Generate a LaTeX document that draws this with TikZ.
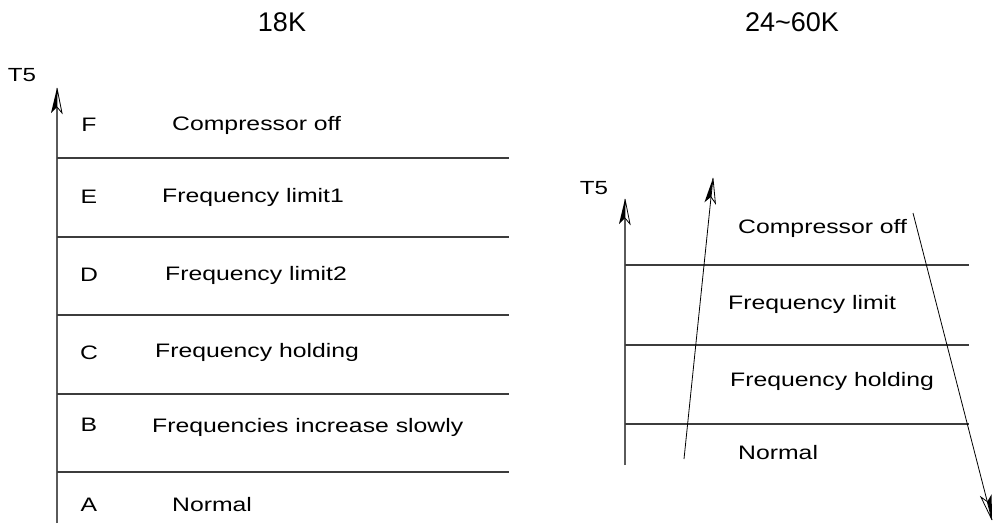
\documentclass[tikz,border=0pt]{standalone}
\usepackage{fontspec}
\setmainfont[FakeStretch=1.27]{Liberation Sans}
\newfontfamily\hdfont{Liberation Sans}
\usetikzlibrary{calc}
\definecolor{bandcol}{RGB}{60,60,60}
\definecolor{axiscol}{RGB}{90,90,90}
\tikzset{
  lbl/.style={anchor=west, inner sep=0pt, font=\fontsize{19.5}{23}\selectfont},
  ctr/.style={inner sep=0pt, font=\fontsize{19.5}{23}\selectfont},
  hdr/.style={inner sep=0pt, font=\hdfont\fontsize{27}{30}\selectfont},
  tfive/.style={inner sep=0pt, font=\fontsize{19}{22}\selectfont},
  band/.style={draw=bandcol, line width=1.3pt},
  axis/.style={draw=axiscol, line width=1.3pt},
  thin/.style={draw=black, line width=0.8pt},
}
\newcommand{\halfhead}[2]{%
  \coordinate (hb) at ($(#1)!25pt!(#2)$);
  \coordinate (hn) at ($(#1)!19pt!(#2)$);
  \fill[black] (#1) -- ($(hb)!6pt!90:(#1)$) -- (hn) -- cycle;
  \draw[line width=0.8pt, fill=white] (#1) -- ($(hb)!5pt!-90:(#1)$) -- (hn) -- cycle;
}
\begin{document}
\begin{tikzpicture}[x=1pt, y=-1pt]
\useasboundingbox (0,0) rectangle (998,530);
% headers
\node[hdr] (h1) at (282,22) {18K};
\node[hdr] (h2) at (792,22) {24\char`~60K};
% ---------- left diagram ----------
\node[tfive] (t5a) at (22,75) {T5};
\coordinate (la0) at (57,523);
\coordinate (la1) at (57,88);
\path[axis] (la0) -- ($(la1)+(0,18)$);
\halfhead{la1}{la0}
\foreach \y/\n in {158/l1,237/l2,315/l3,394/l4,472/l5}{
  \coordinate (\n s) at (57,\y);
  \coordinate (\n e) at (509,\y);
  \path[band] (\n s) -- (\n e);
}
\node[ctr] (F) at (89,125) {F};
\node[ctr] (E) at (89,197) {E};
\node[ctr] (D) at (89,275) {D};
\node[ctr] (C) at (89,353) {C};
\node[ctr] (B) at (89,425) {B};
\node[ctr] (A) at (89,505) {A};
\node[lbl] (tF) at (172,125) {Compressor off};
\node[lbl] (tE) at (162,197) {Frequency limit1};
\node[lbl] (tD) at (165,275) {Frequency limit2};
\node[lbl] (tC) at (155,352) {Frequency holding};
\node[lbl] (tB) at (152,427) {Frequencies increase slowly};
\node[lbl] (tA) at (172,505) {Normal};
% ---------- right diagram ----------
\node[tfive] (t5b) at (594,188) {T5};
\coordinate (ra0) at (625,465);
\coordinate (ra1) at (625,199);
\path[axis] (ra0) -- ($(ra1)+(0,18)$);
\halfhead{ra1}{ra0}
\foreach \y/\n in {265/r1,345/r2,424/r3}{
  \coordinate (\n s) at (625,\y);
  \coordinate (\n e) at (969,\y);
  \path[band] (\n s) -- (\n e);
}
\node[lbl] (r4) at (738,228) {Compressor off};
\node[lbl] (r3) at (728,304) {Frequency limit};
\node[lbl] (r2) at (730,381) {Frequency holding};
\node[lbl] (r1) at (738,453) {Normal};
% rising arrow
\coordinate (up0) at (684,459);
\coordinate (up1) at (713,178);
\path[thin] (up0) -- ($(up1)!18pt!(up0)$);
\halfhead{up1}{up0}
% falling arrow
\coordinate (dn0) at (913,213);
\coordinate (dn1) at (992,520);
\path[thin] (dn0) -- ($(dn1)!18pt!(dn0)$);
\halfhead{dn1}{dn0}
\end{tikzpicture}
\end{document}
